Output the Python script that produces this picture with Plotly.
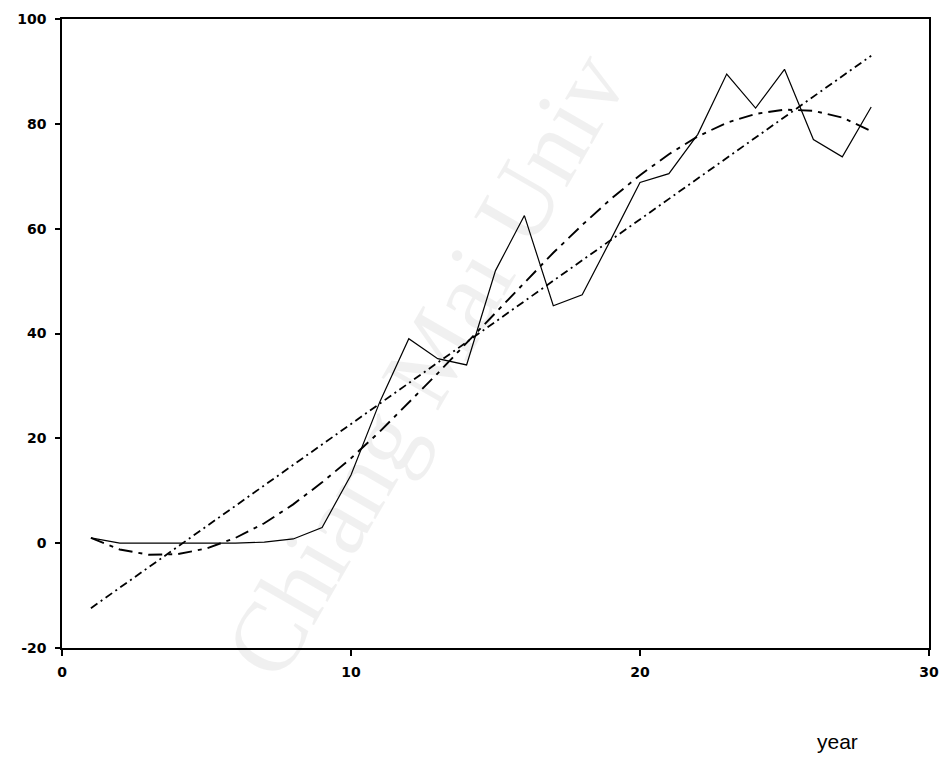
import plotly.graph_objects as go

years = list(range(1, 29))
observed = [1.0, 0.0, 0.0, 0.0, 0.0, 0.0, 0.2, 0.8, 3.0, 13.0, 27.0, 39.0, 35.2, 34.0,
            52.0, 62.5, 45.3, 47.4, 58.0, 68.8, 70.5, 78.0, 89.5, 83.0, 90.4, 77.0, 73.7, 83.2]
linear_trend = [-12.4, -8.5, -4.6, -0.7, 3.2, 7.1, 11.0, 14.9, 18.8, 22.7, 26.6, 30.5, 34.4, 38.3,
                42.2, 46.1, 50.0, 53.9, 57.8, 61.7, 65.6, 69.5, 73.4, 77.3, 81.2, 85.1, 89.0, 93.0]
cubic_trend = [1.0, -1.2, -2.2, -2.1, -1.0, 1.0, 3.8, 7.4, 11.6, 16.2, 21.3, 26.8, 32.4, 38.2,
               44.0, 49.8, 55.4, 60.7, 65.7, 70.2, 74.2, 77.6, 80.2, 81.9, 82.7, 82.5, 81.2, 78.6]

x_ticks = [0, 10, 20, 30]
y_ticks = [-20, 0, 20, 40, 60, 80, 100]

fig = go.Figure()
fig.add_trace(go.Scatter(x=years, y=observed, mode="lines",
                         line=dict(color="black", width=1.2), showlegend=False))
fig.add_trace(go.Scatter(x=years, y=linear_trend, mode="lines",
                         line=dict(color="black", width=1.8, dash="8px,4px,2px,4px"),
                         showlegend=False))
fig.add_trace(go.Scatter(x=years, y=cubic_trend, mode="lines",
                         line=dict(color="black", width=1.9, dash="14px,6px,4px,6px"),
                         showlegend=False))

tickfont = dict(family="DejaVu Sans", size=14, color="black", weight="bold")

fig.update_xaxes(range=[0, 30], tickvals=x_ticks, ticktext=[str(v) for v in x_ticks],
                 showgrid=False, zeroline=False, showline=True, linecolor="black", linewidth=1.5,
                 mirror=True, ticks="outside", ticklen=6, tickwidth=1.5, tickcolor="black",
                 tickfont=tickfont, ticklabelstandoff=4, automargin=False)
fig.update_yaxes(range=[-20, 100], tickvals=y_ticks, ticktext=[str(v) for v in y_ticks],
                 showgrid=False, zeroline=False, showline=True, linecolor="black", linewidth=1.5,
                 mirror=True, ticks="outside", ticklen=5, tickwidth=1.5, tickcolor="black",
                 tickfont=tickfont, ticklabelstandoff=6, automargin=False)

fig.add_annotation(text="year", xref="paper", yref="paper", x=0.895, y=-0.149,
                   xanchor="center", yanchor="middle", showarrow=False,
                   font=dict(family="Liberation Sans", size=21, color="black"))

fig.add_annotation(text="Chiang Mai Univ", xref="paper", yref="paper", x=0.42, y=0.45,
                   xanchor="center", yanchor="middle", showarrow=False, textangle=-60,
                   font=dict(family="Liberation Serif", size=100, color="rgba(0,0,0,0.06)"))

fig.update_layout(width=947, height=764, paper_bgcolor="white", plot_bgcolor="white",
                  margin=dict(l=62, r=18, t=19, b=116, autoexpand=False), showlegend=False)

fig.write_html("out.html")
